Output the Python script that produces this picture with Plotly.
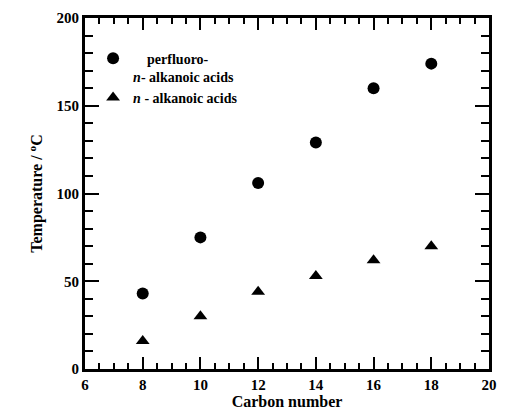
import plotly.graph_objects as go

carbon = [8, 10, 12, 14, 16, 18]
perfluoro = [43, 75, 106, 129, 160, 174]
alkanoic = [16, 30, 44, 53, 62, 70]
x_ticks = [6, 8, 10, 12, 14, 16, 18, 20]
y_ticks = [0, 50, 100, 150, 200]

font = "Liberation Serif, Times New Roman, serif"

fig = go.Figure()
fig.add_trace(go.Scatter(x=carbon, y=perfluoro, mode="markers",
                         name="<b>&nbsp;&nbsp;&nbsp;&nbsp;perfluoro-<br><i>n</i>- alkanoic acids</b>",
                         marker=dict(symbol="circle", size=12, color="black")))
fig.add_trace(go.Scatter(x=carbon, y=alkanoic, mode="markers",
                         name="<b><i>n</i> - alkanoic acids</b>",
                         marker=dict(symbol="triangle-up", size=12, color="black")))

fig.update_layout(
    width=507, height=419, margin=dict(l=85, r=10, t=17, b=50),
    plot_bgcolor="white", paper_bgcolor="white",
    xaxis=dict(range=[6, 20], tickmode="array", tickvals=x_ticks,
               ticktext=["<b>%d</b>" % v for v in x_ticks],
               showgrid=False, zeroline=False, showline=True, linecolor="black",
               linewidth=3, mirror="allticks", ticks="inside", tickcolor="black",
               tickwidth=2, ticklen=12,
               minor=dict(dtick=0.5, ticks="inside", ticklen=6, tickwidth=2, tickcolor="black", showgrid=False),
               tickfont=dict(family=font, size=15, color="black"),
               title=dict(text="<b>Carbon number</b>", font=dict(family=font, size=16, color="black"), standoff=4)),
    yaxis=dict(range=[0, 200], tickmode="array", tickvals=y_ticks,
               ticktext=["<b>%d</b>" % v for v in y_ticks],
               showgrid=False, zeroline=False, showline=True, linecolor="black",
               linewidth=3, mirror="allticks", ticks="inside", tickcolor="black",
               tickwidth=2, ticklen=14,
               minor=dict(dtick=10, ticks="inside", ticklen=8, tickwidth=2, tickcolor="black", showgrid=False),
               tickfont=dict(family=font, size=15, color="black"),
               title=dict(text="<b>Temperature / <sup>o</sup>C</b>", font=dict(family=font, size=16, color="black"), standoff=10)),
    legend=dict(x=0.02, y=0.93, xanchor="left", yanchor="top",
                bgcolor="rgba(0,0,0,0)", valign="top", tracegroupgap=2,
                font=dict(family=font, size=14, color="black")),
)

fig.write_html("out.html")
